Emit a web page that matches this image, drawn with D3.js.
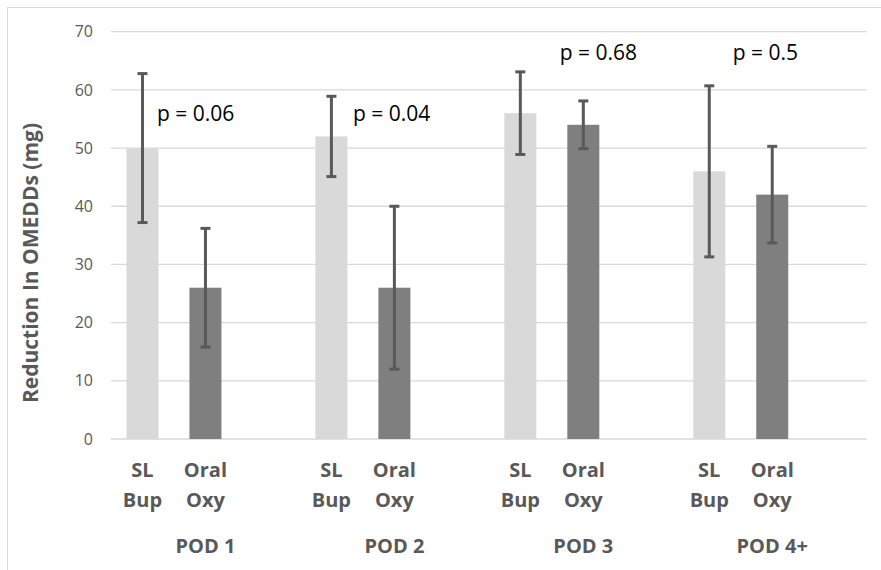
<!DOCTYPE html>
<html>
<head>
<meta charset="utf-8">
<script src="https://cdn.jsdelivr.net/npm/d3@7"></script>
<style>
  body { margin: 0; background: #fff; }
  text { font-family: "Open Sans", "Noto Sans", sans-serif; }
</style>
</head>
<body>
<svg id="chart"></svg>
<script>
// data
const groups = ["POD 1", "POD 2", "POD 3", "POD 4+"];
const series = ["SL Bup", "Oral Oxy", ""];   // third slot is an empty series in the original
const slBup = [50, 52, 56, 46];
const slBupErr = [12.8, 6.9, 7.1, 14.7];
const oralOxy = [26, 26, 54, 42];
const oralOxyErr = [10.2, 14, 4.1, 8.3];
const pValues = ["p = 0.06", "p = 0.04", "p = 0.68", "p = 0.5"];
const pLevels = [56, 56, 66.5, 66.5];

const yTicks = [0, 10, 20, 30, 40, 50, 60, 70];

const width = 881, height = 570;
const margin = {top: 31.7, right: 14.3, bottom: 131, left: 111};
const colors = {"SL Bup": "#d9d9d9", "Oral Oxy": "#7f7f7f"};
const pDx = [-48.5, -41.5, -23.5, -39.5]; // label nudges from group centre

const svg = d3.select("#chart").attr("width", width).attr("height", height);

// chart frame
svg.append("rect")
    .attr("x", 7.5).attr("y", 7.5)
    .attr("width", width).attr("height", height)
    .attr("fill", "none").attr("stroke", "#d9d9d9").attr("stroke-width", 1);

const x0 = d3.scaleBand().domain(groups)
    .range([margin.left, width - margin.right]).padding(0);
const x1 = d3.scaleBand().domain(series)
    .range([0, x0.bandwidth()]).padding(0);
const barW = 32;
const y = d3.scaleLinear().domain([0, 70])
    .range([height - margin.bottom, margin.top]);

// gridlines
svg.append("g")
    .selectAll("line")
    .data(yTicks)
    .join("line")
    .attr("x1", margin.left).attr("x2", width - margin.right)
    .attr("y1", d => y(d)).attr("y2", d => y(d))
    .attr("stroke", "#d9d9d9").attr("stroke-width", 1.3);

// y axis labels
const yAxis = svg.append("g")
    .attr("transform", `translate(${margin.left - 18},0)`)
    .call(d3.axisLeft(y).tickValues(yTicks).tickSize(0).tickPadding(0));
yAxis.select(".domain").remove();
yAxis.selectAll("text")
    .attr("font-family", "Open Sans")
    .attr("font-size", "16px")
    .attr("fill", "#595959");

svg.append("text")
    .attr("transform", `translate(30, 263) rotate(-90)`)
    .attr("text-anchor", "middle")
    .attr("dominant-baseline", "central")
    .attr("font-size", "21px")
    .attr("font-weight", "bold")
    .attr("fill", "#595959")
    .text("Reduction In OMEDDs (mg)");

// rows for bars
const rows = [];
groups.forEach((g, i) => {
    rows.push({group: g, s: "SL Bup", v: slBup[i], e: slBupErr[i]});
    rows.push({group: g, s: "Oral Oxy", v: oralOxy[i], e: oralOxyErr[i]});
});
const cx = d => x0(d.group) + x1(d.s) + x1.bandwidth() / 2;

svg.append("g")
    .selectAll("rect")
    .data(rows)
    .join("rect")
    .attr("x", d => cx(d) - barW / 2)
    .attr("width", barW)
    .attr("y", d => y(d.v))
    .attr("height", d => y(0) - y(d.v))
    .attr("fill", d => colors[d.s]);

// error bars
const err = svg.append("g")
    .attr("stroke", "#595959")
    .attr("stroke-width", 3)
    .selectAll("g")
    .data(rows)
    .join("g");
err.append("line")
    .attr("x1", cx).attr("x2", cx)
    .attr("y1", d => y(d.v + d.e)).attr("y2", d => y(d.v - d.e));
err.append("line")
    .attr("x1", d => cx(d) - 5).attr("x2", d => cx(d) + 5)
    .attr("y1", d => y(d.v + d.e)).attr("y2", d => y(d.v + d.e));
err.append("line")
    .attr("x1", d => cx(d) - 5).attr("x2", d => cx(d) + 5)
    .attr("y1", d => y(d.v - d.e)).attr("y2", d => y(d.v - d.e));

// p value labels
svg.append("g")
    .selectAll("text")
    .data(groups)
    .join("text")
    .attr("x", (d, i) => x0(d) + x0.bandwidth() / 2 + pDx[i])
    .attr("y", (d, i) => y(pLevels[i]))
    .attr("dominant-baseline", "central")
    .attr("font-size", "21px")
    .attr("fill", "#000")
    .text((d, i) => pValues[i]);

// category labels (two lines each)
const catLabels = svg.append("g")
    .selectAll("text")
    .data(rows)
    .join("text")
    .attr("text-anchor", "middle")
    .attr("font-size", "20px")
    .attr("font-weight", "bold")
    .attr("fill", "#595959");
catLabels.append("tspan")
    .attr("x", cx).attr("y", 477)
    .text(d => d.s.split(" ")[0]);
catLabels.append("tspan")
    .attr("x", cx).attr("y", 507)
    .text(d => d.s.split(" ")[1]);

// group labels
svg.append("g")
    .selectAll("text")
    .data(groups)
    .join("text")
    .attr("x", d => x0(d) + x0.bandwidth() / 2)
    .attr("y", 553)
    .attr("text-anchor", "middle")
    .attr("font-size", "20px")
    .attr("font-weight", "bold")
    .attr("fill", "#595959")
    .text(d => d);
</script>
</body>
</html>
